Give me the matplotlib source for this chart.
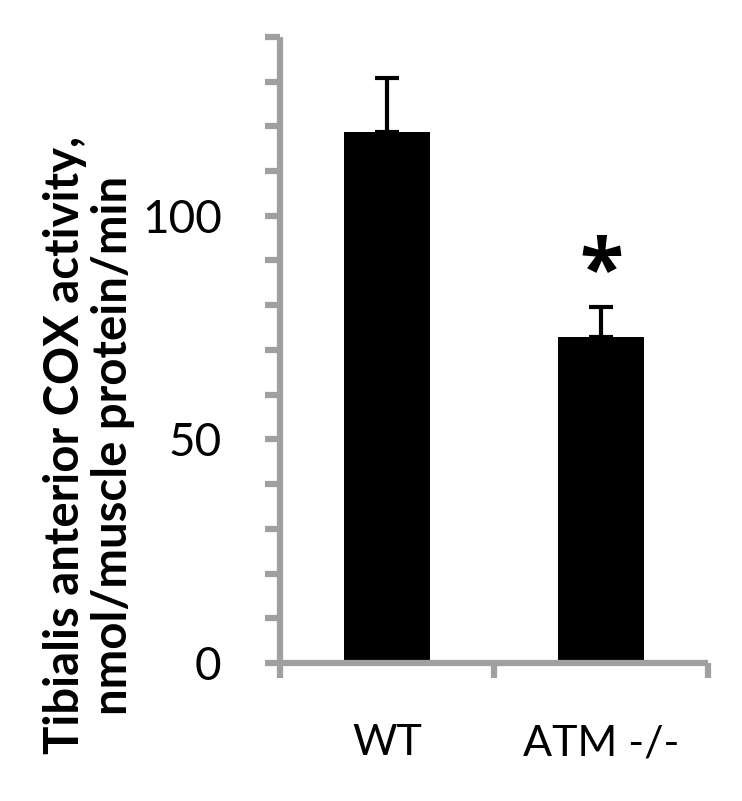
import matplotlib.pyplot as plt
from matplotlib.ticker import FixedLocator, FuncFormatter

groups = ["WT", "ATM -/-"]
activity = [118.7, 72.9]
sem = [12.2, 6.6]
star_y = 87

plt.rcParams['font.family'] = ['Lato', 'DejaVu Sans']

fig = plt.figure(figsize=(7.42, 8.01), dpi=100)
ax = fig.add_axes([0.3774, 0.1723, 0.9542 - 0.3774, 0.954 - 0.1723])

grey = '#a0a0a0'
xs = [0.5, 1.5]
ax.bar(xs, activity, width=0.4, color='black', zorder=2)
ax.errorbar(xs, activity, yerr=[[0, 0], sem], fmt='none', ecolor='black',
            elinewidth=3, capsize=8.5, capthick=3, zorder=3)
ax.text(xs[1], star_y, "*", ha='center', va='center', fontsize=58,
        fontweight='bold', family=['Open Sans', 'DejaVu Sans'])

ax.set_xlim(0, 2)
ax.set_ylim(0, 140)

for s in ['top', 'right']:
    ax.spines[s].set_visible(False)
for s in ['left', 'bottom']:
    ax.spines[s].set_color(grey)
    ax.spines[s].set_linewidth(4.5)
    ax.spines[s].set_capstyle('butt')

ax.yaxis.set_major_locator(FixedLocator(range(0, 141, 10)))
ax.yaxis.set_major_formatter(FuncFormatter(lambda v, p: f"{int(v)}" if v in (0, 50, 100) else ""))
ax.tick_params(axis='y', direction='out', length=11, width=4.5, color=grey,
               labelsize=33, pad=31)

ax.set_xticks([0, 1, 2])
ax.set_xticklabels(["", "", ""])
ax.set_xticks(xs, minor=True)
ax.set_xticklabels(groups, minor=True)
ax.tick_params(axis='x', which='major', direction='out', length=11, width=4.5, color=grey)
ax.tick_params(axis='x', which='minor', length=0, labelsize=31, pad=44)

fig.text(89 / 742, 1 - 445 / 801,
         "Tibialis anterior COX activity,\nnmol/muscle protein/min",
         rotation=90, ha='center', va='center', multialignment='center',
         fontsize=34, fontweight='bold', linespacing=1.1)

fig.savefig("out.png", dpi=100)
